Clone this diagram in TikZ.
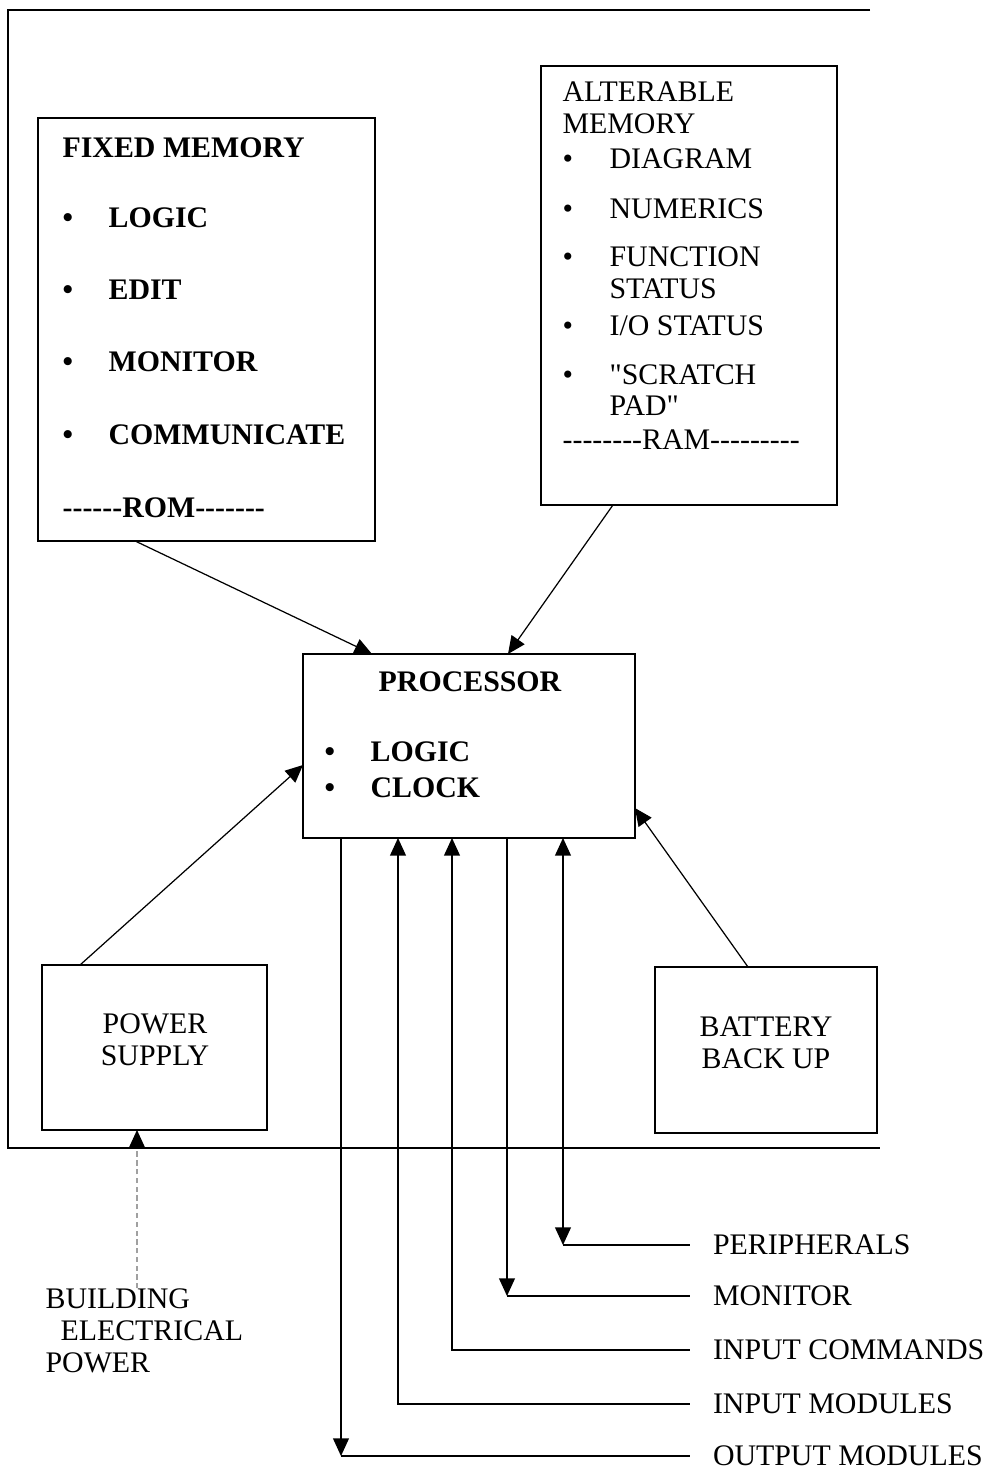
\documentclass[tikz,border=0pt]{standalone}
\usepackage{fontspec}
\setmainfont{Liberation Serif}
\usetikzlibrary{arrows.meta,positioning,calc}
\definecolor{faded}{HTML}{A0A0A0}
\newcommand{\plcfont}{\fontsize{17}{18.1}\selectfont}
\newcommand{\dashrun}[1]{\foreach \k in {1,...,#1}{\mbox{-}}}
\font\quotefont="Liberation Serif" at 17pt
\newcommand{\sq}{{\quotefont\char"22}}

\begin{document}
\begin{tikzpicture}[x=0.02cm, y=-0.02cm, line width=0.7pt,
    >={Triangle[length=10pt,width=9pt]},
    box/.style={draw, inner sep=0pt, outer sep=0pt, anchor=north west, font=\plcfont},
    lbl/.style={anchor=west, inner sep=0pt, text height=11.3pt, text depth=0pt, font=\plcfont},
    hlbl/.style={lbl, font=\plcfont\bfseries},
    tag/.style={lbl, outer xsep=0.46cm}]
  \useasboundingbox (0,0) rectangle (993,1471);

  \draw (870,10) -- (8,10) -- (8,1148) -- (880,1148);

  \node[box, minimum width=6.74cm, minimum height=8.46cm] (fixed) at (38,118) {};
  \node[box, minimum width=5.92cm, minimum height=8.78cm] (alt) at (541,66) {};
  \node[box, minimum width=6.64cm, minimum height=3.68cm] (proc) at (303,654) {};
  \node[box, minimum width=4.5cm, minimum height=3.3cm] (power) at (42,965) {};
  \node[box, minimum width=4.44cm, minimum height=3.32cm] (batt) at (655,967) {};

  \node[lbl, anchor=center] at (155,1024) {POWER};
  \node[lbl, anchor=center] at (155,1056) {SUPPLY};
  \node[lbl, anchor=center] at (766,1027) {BATTERY};
  \node[lbl, anchor=center] at (766,1059) {BACK UP};

  \node[hlbl] at (62,148) {FIXED MEMORY};
  \foreach \y/\t in {218/LOGIC, 290/EDIT, 362/MONITOR, 435/COMMUNICATE}
    { \node[hlbl] at (62,\y) {\textbullet};
      \node[hlbl] at (108,\y) {\t}; }
  \node[hlbl] at (62,508) {\dashrun{6}ROM\dashrun{7}};

  \node[lbl] at (562,92) {ALTERABLE};
  \node[lbl] at (562,124) {MEMORY};
  \foreach \y/\t in {159/DIAGRAM, 209/NUMERICS, 257/FUNCTION, 326/{I/O STATUS}, 375/{\sq SCRATCH}}
    { \node[lbl] at (562,\y) {\textbullet};
      \node[lbl] at (609,\y) {\t}; }
  \node[lbl] at (609,289) {STATUS};
  \node[lbl] at (609,406) {PAD\sq};
  \node[lbl] at (562,440) {\dashrun{8}RAM\dashrun{9}};

  \node[hlbl, anchor=center] at (470,682) {PROCESSOR};
  \foreach \y/\t in {752/LOGIC, 788/CLOCK}
    { \node[hlbl] at (324,\y) {\textbullet};
      \node[hlbl] at (370,\y) {\t}; }

  \node[font=\plcfont, align=left, inner sep=0pt, anchor=west] (bep) at (45,1331)
    {BUILDING\\\hspace*{8.5pt}ELECTRICAL\\POWER};

  \foreach \n/\y/\t in {pe/1245/PERIPHERALS, mo/1296/MONITOR, ic/1350/INPUT COMMANDS,
                        im/1404/INPUT MODULES, om/1456/OUTPUT MODULES}
    \node[tag] (l\n) at (690,\y) {\t};
  \foreach \n/\dx in {om/38, im/95, ic/149, mo/204, pe/260}
    \coordinate (\n) at ($(proc.south west)+(\dx,0)$);

  \draw[->] ($(fixed.south west)+(97,0)$) -- ($(proc.north west)+(69,0)$);
  \draw[->] ($(alt.south west)+(72,0)$) -- ($(proc.north west)+(205,0)$);
  \draw[->] ($(power.north west)+(38,0)$) -- ($(proc.north west)+(0,111)$);
  \draw[->] ($(batt.north west)+(93,0)$) -- ($(proc.north east)+(0,154)$);

  \foreach \n/\a in {om/->, mo/->, pe/<->}
    { \draw[\a] (\n) -- (\n |- l\n.west);
      \draw (\n |- l\n.west) -- (l\n.west); }
  \foreach \n in {im, ic}
    \draw[<-] (\n) |- (l\n.west);

  \coordinate (bus) at (137,1148);
  \draw[faded, densely dashed] (bep.north -| bus) -- (bus);
  \draw[->] (bus) -- (bus |- power.south);
\end{tikzpicture}
\end{document}
